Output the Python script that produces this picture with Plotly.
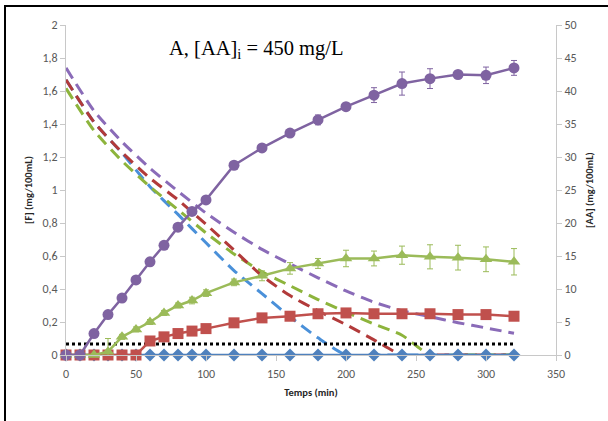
import plotly.graph_objects as go

# ---- data ----
t_min = [0, 10, 20, 30, 40, 50, 60, 70, 80, 90, 100, 120, 140, 160, 180, 200, 220, 240, 260, 280, 300, 320]
f_purple = [0, 0, 0.13, 0.245, 0.345, 0.455, 0.565, 0.665, 0.775, 0.87, 0.94, 1.15, 1.255, 1.345, 1.425, 1.505, 1.575, 1.645, 1.675, 1.70, 1.695, 1.74]
f_purple_err = [0, 0, 0.01, 0.01, 0.01, 0.01, 0.01, 0.01, 0.01, 0.01, 0.015, 0.015, 0.015, 0.02, 0.03, 0.02, 0.045, 0.07, 0.06, 0.02, 0.05, 0.045]
f_green = [0, 0, 0, 0.02, 0.11, 0.155, 0.20, 0.255, 0.30, 0.33, 0.375, 0.44, 0.48, 0.525, 0.555, 0.585, 0.585, 0.605, 0.595, 0.59, 0.58, 0.565]
f_green_err = [0, 0, 0, 0.08, 0.015, 0.015, 0.015, 0.015, 0.015, 0.02, 0.02, 0.02, 0.03, 0.035, 0.03, 0.05, 0.045, 0.055, 0.073, 0.075, 0.075, 0.08]
f_red = [0, 0, 0, 0, 0, 0, 0.085, 0.11, 0.13, 0.145, 0.16, 0.195, 0.225, 0.235, 0.25, 0.255, 0.25, 0.25, 0.25, 0.245, 0.245, 0.235]
f_red_err = [0, 0, 0, 0, 0, 0, 0.01, 0.01, 0.01, 0.01, 0.01, 0.01, 0.01, 0.015, 0.015, 0.015, 0.015, 0.015, 0.015, 0.015, 0.015, 0.02]
f_blue = [0] * len(t_min)

t_aa = [0, 20, 40, 60, 80, 100, 120, 140, 160, 180, 200, 220, 240, 260, 280, 300, 320]
aa_purple = [43.5, 37, 32.3, 28.3, 24.8, 21.5, 18.6, 16, 13.8, 11.7, 9.7, 8, 6.7, 5.8, 4.9, 4.1, 3.3]
aa_red = [41.7, 35.3, 30.7, 26.8, 23.5, 19.8, 15.9, 12, 9, 6.7, 4.6, 2.3, 0, 0, 0, 0, 0]
aa_green = [40.4, 34, 29.4, 25.5, 22, 18.5, 15.3, 12.6, 10.5, 8.4, 6.5, 4.7, 3.0, 0, 0, 0, 0]
aa_blue = [41.7, 35.3, 30.6, 25.5, 21.3, 17, 12.8, 9.3, 5.8, 2.6, 0, 0, 0, 0, 0, 0, 0]

limit_x = [0, 320]
limit_y = [0.067, 0.067]

f_ticks = [0, 0.2, 0.4, 0.6, 0.8, 1, 1.2, 1.4, 1.6, 1.8, 2]
f_ticktext = ["0", "0,2", "0,4", "0,6", "0,8", "1", "1,2", "1,4", "1,6", "1,8", "2"]
aa_ticks = [0, 5, 10, 15, 20, 25, 30, 35, 40, 45, 50]
x_ticks = [0, 50, 100, 150, 200, 250, 300, 350]

PURPLE, RED, GREEN, BLUE = "#7f63a1", "#c0504d", "#9bbb59", "#4f81bd"
FONT = "Carlito, Calibri, Lato, sans-serif"

fig = go.Figure()

# dashed AA curves (main y axis, right side)
for ys, col in [(aa_blue, "#4a90d9"), (aa_green, "#8db43c"), (aa_red, "#b23a3a"), (aa_purple, "#8a6bb8")]:
    fig.add_trace(go.Scatter(x=t_aa, y=ys, mode="lines", yaxis="y", cliponaxis=False,
                             line=dict(color=col, width=3, dash="12px,7px", shape="spline", smoothing=0.6),
                             showlegend=False, hoverinfo="skip"))

# F series (overlay axis, left side)
fig.add_trace(go.Scatter(x=limit_x, y=limit_y, mode="lines", yaxis="y2",
                         line=dict(color="black", width=3, dash="3px,3px"), showlegend=False))
fig.add_trace(go.Scatter(x=t_min, y=f_blue, mode="lines+markers", yaxis="y2", cliponaxis=False,
                         line=dict(color=BLUE, width=2.5),
                         marker=dict(symbol="diamond", size=10, color=BLUE), showlegend=False))
fig.add_trace(go.Scatter(x=t_min, y=f_red, mode="lines+markers", yaxis="y2", cliponaxis=False,
                         line=dict(color=RED, width=2.5),
                         marker=dict(symbol="square", size=11, color=RED),
                         error_y=dict(type="data", array=f_red_err, color=RED, thickness=1, width=3),
                         showlegend=False))
fig.add_trace(go.Scatter(x=t_min, y=f_green, mode="lines+markers", yaxis="y2", cliponaxis=False,
                         line=dict(color=GREEN, width=2.5),
                         marker=dict(symbol="triangle-up", size=11, color=GREEN),
                         error_y=dict(type="data", array=f_green_err, color=GREEN, thickness=1, width=3),
                         showlegend=False))
fig.add_trace(go.Scatter(x=t_min, y=f_purple, mode="lines+markers", yaxis="y2", cliponaxis=False,
                         line=dict(color=PURPLE, width=2.5),
                         marker=dict(symbol="circle", size=11, color=PURPLE),
                         error_y=dict(type="data", array=f_purple_err, color=PURPLE, thickness=1, width=3),
                         showlegend=False))

axis_common = dict(showgrid=False, zeroline=False, showline=True, linecolor="#c8c8c8", linewidth=1,
                   ticks="outside", ticklen=5, tickcolor="#c8c8c8", automargin=False,
                   tickfont=dict(family=FONT, size=12, color="#595959"))

title_font = dict(family=FONT, size=10.5, color="#262626")

fig.update_layout(
    width=608, height=421,
    margin=dict(l=66, r=52, t=25, b=66),
    paper_bgcolor="white", plot_bgcolor="white",
    showlegend=False,
    xaxis=dict(range=[0, 350], tickvals=x_ticks, ticklabelstandoff=3, **axis_common,
               title=dict(text="<b>Temps (min)</b>", font=title_font, standoff=8)),
    yaxis=dict(range=[0, 50], side="right", tickvals=aa_ticks, **axis_common,
               title=dict(text="<b>[AA] (mg/100mL)</b>", font=title_font, standoff=10)),
    yaxis2=dict(range=[0, 2], side="left", overlaying="y", tickvals=f_ticks, ticktext=f_ticktext, **axis_common,
                title=dict(text="<b>[F] (mg/100mL)</b>", font=title_font, standoff=7)),
    annotations=[dict(text="A, [AA]<sub>i</sub> = 450 mg/L", xref="paper", yref="paper",
                      x=0.388, y=0.925, xanchor="center", yanchor="middle", showarrow=False,
                      font=dict(family="Liberation Serif, Times New Roman, serif", size=20.5, color="black"))],
    shapes=[dict(type="rect", xref="paper", yref="paper",
                 x0=(5 - 66) / 490, x1=(615 - 66) / 490, y0=(355 - 428) / 330, y1=(355 - 6) / 330,
                 line=dict(color="black", width=2), fillcolor="rgba(0,0,0,0)", layer="above")],
)

fig.write_html("out.html", config={"displayModeBar": False},
               post_script="document.body.style.margin='0';document.body.style.overflow='hidden';")
